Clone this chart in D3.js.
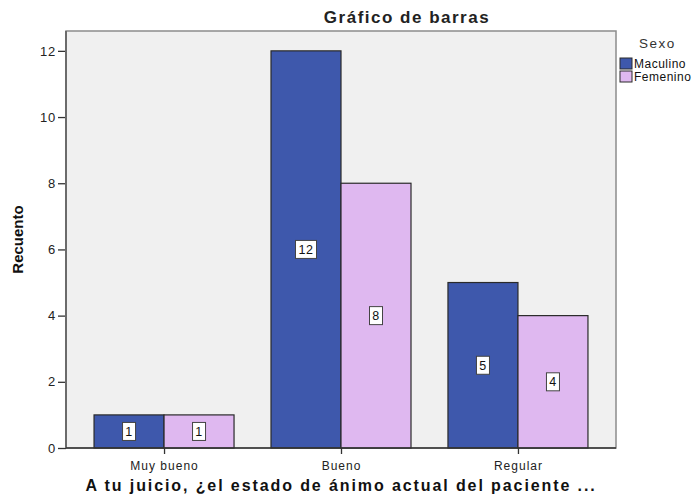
<!DOCTYPE html>
<html>
<head>
<meta charset="utf-8">
<script src="https://cdn.jsdelivr.net/npm/d3@7"></script>
<style>
  body { margin: 0; background: #fff; }
  svg { font-family: "Liberation Sans", Arial, sans-serif; }
</style>
</head>
<body>
<div id="chart"></div>
<script>
// Data
const categories = ["Muy bueno", "Bueno", "Regular"];
const seriesNames = ["Maculino", "Femenino"];
const masculino = [1, 12, 5];
const femenino = [1, 8, 4];
const yTicks = [0, 2, 4, 6, 8, 10, 12];

const width = 698;
const height = 495;
const plot = { left: 66, top: 31, right: 616, bottom: 448 };

const svg = d3.select("#chart")
    .append("svg")
    .attr("width", width)
    .attr("height", height);

// plot background
svg.append("rect")
    .attr("x", plot.left)
    .attr("y", plot.top)
    .attr("width", plot.right - plot.left)
    .attr("height", plot.bottom - plot.top)
    .attr("fill", "#f0f0f0")
    .attr("stroke", "#8c8c8c")
    .attr("stroke-width", 1.5);

const x = d3.scalePoint()
    .domain(categories)
    .range([plot.left, plot.right])
    .padding(0.554);

const y = d3.scaleLinear()
    .domain([0, 12.6])
    .range([plot.bottom, plot.top]);

const barW = 70;
const colors = { Maculino: "#3e58ac", Femenino: "#dfb8f0" };

const rows = [];
categories.forEach((c, i) => {
    rows.push({ cat: c, s: "Maculino", v: masculino[i], off: -barW });
    rows.push({ cat: c, s: "Femenino", v: femenino[i], off: 0 });
});

// bars
svg.selectAll(".bar")
    .data(rows)
    .enter()
    .append("rect")
    .attr("class", "bar")
    .attr("x", d => x(d.cat) + d.off)
    .attr("y", d => y(d.v))
    .attr("width", barW)
    .attr("height", d => y(0) - y(d.v))
    .attr("fill", d => colors[d.s])
    .attr("stroke", "#2a2a2a")
    .attr("stroke-width", 1.2);

// value labels
const lab = svg.selectAll(".lab")
    .data(rows)
    .enter()
    .append("g")
    .attr("transform", d => `translate(${x(d.cat) + d.off + barW / 2},${y(d.v / 2)})`);

lab.append("rect")
    .attr("x", d => String(d.v).length > 1 ? -10.5 : -6.5)
    .attr("y", -9)
    .attr("width", d => String(d.v).length > 1 ? 21 : 13)
    .attr("height", 18)
    .attr("fill", "#fff")
    .attr("stroke", "#444")
    .attr("stroke-width", 1);

lab.append("text")
    .attr("text-anchor", "middle")
    .attr("dy", "0.36em")
    .attr("font-size", 12.5)
    .attr("letter-spacing", 0.5)
    .attr("fill", "#111")
    .text(d => d.v);

// y axis
const yAxis = svg.append("g")
    .attr("transform", `translate(${plot.left},0)`)
    .call(d3.axisLeft(y).tickValues(yTicks).tickSize(8).tickPadding(2));
yAxis.select(".domain").remove();
yAxis.selectAll(".tick line").attr("stroke", "#333").attr("stroke-width", 1.3);
yAxis.selectAll(".tick text")
    .style("font-family", "Liberation Sans, Arial, sans-serif")
    .style("font-size", "13px")
    .attr("letter-spacing", 0.8)
    .attr("fill", "#222");
svg.append("line")
    .attr("x1", plot.left).attr("x2", plot.left)
    .attr("y1", plot.top).attr("y2", plot.bottom)
    .attr("stroke", "#6b6b6b")
    .attr("stroke-width", 2);

// x axis
const xAxis = svg.append("g")
    .attr("transform", `translate(0,${plot.bottom})`)
    .call(d3.axisBottom(x).tickSize(6).tickPadding(7));
xAxis.select(".domain").remove();
xAxis.selectAll(".tick line").attr("stroke", "#333").attr("stroke-width", 1.3);
xAxis.selectAll(".tick text")
    .style("font-family", "Liberation Sans, Arial, sans-serif")
    .style("font-size", "12px")
    .attr("letter-spacing", 1)
    .attr("fill", "#222");
svg.append("line")
    .attr("x1", plot.left).attr("x2", plot.right)
    .attr("y1", plot.bottom).attr("y2", plot.bottom)
    .attr("stroke", "#333")
    .attr("stroke-width", 1.5);

// title
svg.append("text")
    .attr("x", 407)
    .attr("y", 23)
    .attr("text-anchor", "middle")
    .attr("font-size", 17)
    .attr("font-weight", "bold")
    .attr("letter-spacing", 1.5)
    .attr("fill", "#222")
    .text("Gráfico de barras");

// axis titles
svg.append("text")
    .attr("transform", `translate(23,${(plot.top + plot.bottom) / 2}) rotate(-90)`)
    .attr("text-anchor", "middle")
    .attr("font-size", 15)
    .attr("font-weight", "bold")
    .attr("fill", "#111")
    .text("Recuento");

svg.append("text")
    .attr("x", 341)
    .attr("y", 491)
    .attr("text-anchor", "middle")
    .attr("font-size", 16)
    .attr("font-weight", "bold")
    .attr("letter-spacing", 1.9)
    .attr("fill", "#111")
    .text("A tu juicio, ¿el estado de ánimo actual del paciente ...");

// legend
const legend = svg.append("g");
legend.append("text")
    .attr("x", 639)
    .attr("y", 48)
    .attr("font-size", 13.5)
    .attr("letter-spacing", 1.5)
    .attr("fill", "#333")
    .text("Sexo");

seriesNames.forEach((s, i) => {
    legend.append("rect")
        .attr("x", 620)
        .attr("y", 58 + i * 13)
        .attr("width", 12)
        .attr("height", 11)
        .attr("fill", colors[s])
        .attr("stroke", "#2a2a2a");
    legend.append("text")
        .attr("x", 634)
        .attr("y", 68 + i * 13)
        .attr("font-size", 12)
        .attr("letter-spacing", 0.5)
        .attr("fill", "#111")
        .text(s);
});
</script>
</body>
</html>
